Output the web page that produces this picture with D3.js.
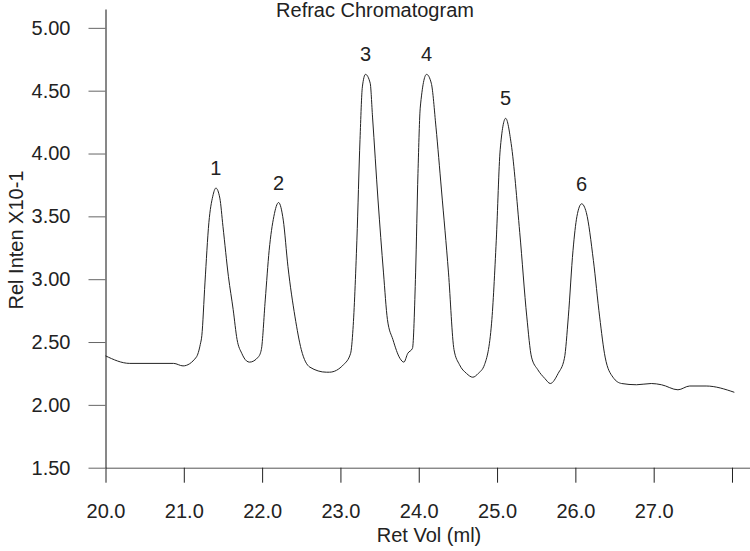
<!DOCTYPE html>
<html>
<head>
<meta charset="utf-8">
<script src="https://cdn.jsdelivr.net/npm/d3@7"></script>
<style>
  body { margin: 0; background: #fff; }
  svg text { font-family: "Liberation Sans", Arial, sans-serif; fill: #222; }
</style>
</head>
<body>
<div id="chart"></div>
<script>
// retention volume (ml) and relative intensity
const retVol = [20.00, 20.31, 20.87, 20.99, 21.16, 21.21, 21.23, 21.27, 21.32, 21.37, 21.41, 21.46, 21.50, 21.57, 21.63, 21.68, 21.74, 21.80, 21.84, 21.95, 21.99,
  22.04, 22.09, 22.15, 22.21, 22.27, 22.33, 22.42, 22.50, 22.61, 22.82, 22.86, 23.04, 23.13, 23.16, 23.21, 23.25, 23.28, 23.32, 23.38, 23.41, 23.48, 23.55, 23.60,
  23.67, 23.76, 23.81, 23.86, 23.92, 23.96, 23.99, 24.02, 24.10, 24.16, 24.22, 24.29, 24.38, 24.45, 24.52, 24.61, 24.69, 24.76, 24.84, 24.93, 24.99, 25.04, 25.11,
  25.18, 25.29, 25.38, 25.44, 25.52, 25.61, 25.68, 25.78, 25.86, 25.91, 25.97, 26.02, 26.08, 26.14, 26.23, 26.31, 26.38, 26.48, 26.59, 26.78, 26.97, 27.10, 27.31,
  27.46, 27.67, 28.03];
const relInten = [2.39, 2.33, 2.33, 2.31, 2.38, 2.48, 2.55, 2.97, 3.45, 3.66, 3.725, 3.645, 3.42, 3.02, 2.76, 2.52, 2.41, 2.35, 2.34, 2.38, 2.44,
  2.835, 3.23, 3.50, 3.61, 3.47, 3.10, 2.70, 2.44, 2.30, 2.26, 2.26, 2.32, 2.41, 2.60, 3.31, 4.11, 4.53, 4.63, 4.56, 4.29, 3.63, 3.05, 2.68,
  2.52, 2.37, 2.34, 2.41, 2.45, 3.05, 3.84, 4.37, 4.63, 4.56, 4.21, 3.71, 3.05, 2.44, 2.32, 2.25, 2.22, 2.25, 2.32, 2.65, 3.31, 4.03, 4.28,
  4.08, 3.37, 2.70, 2.38, 2.28, 2.21, 2.17, 2.25, 2.37, 2.70, 3.23, 3.50, 3.60, 3.53, 3.15, 2.70, 2.38, 2.22, 2.17, 2.16, 2.17, 2.16, 2.12,
  2.15, 2.15, 2.10];

const peakNames = ["1", "2", "3", "4", "5", "6"];
const peakVol = [21.41, 22.21, 23.32, 24.10, 25.11, 26.08];
const peakInten = [3.725, 3.61, 4.63, 4.63, 4.28, 3.60];

const xTicks = [20, 21, 22, 23, 24, 25, 26, 27, 28];
const yTicks = [1.5, 2.0, 2.5, 3.0, 3.5, 4.0, 4.5, 5.0];

const width = 750, height = 551;

const svg = d3.select("#chart").append("svg")
    .attr("width", width)
    .attr("height", height);

const x = d3.scaleLinear().domain([20, 28.23]).range([105.5, 750]);
const y = d3.scaleLinear().domain([1.5, 5.15]).range([467.7, 9]);

// y axis
const yAxis = svg.append("g")
    .attr("transform", "translate(105.5,0)")
    .call(d3.axisLeft(y).tickValues(yTicks).tickSize(17).tickSizeOuter(0).tickPadding(18)
        .tickFormat(d => d.toFixed(2)));
yAxis.select(".domain").attr("stroke", "#111");
yAxis.selectAll(".tick line").attr("stroke", "#666");
yAxis.selectAll("text").style("font-size", "20px").attr("fill", "#222");

// x axis
const xAxis = svg.append("g")
    .attr("transform", "translate(0,467.7)")
    .call(d3.axisBottom(x).tickValues(xTicks).tickSize(15).tickSizeOuter(0).tickPadding(21)
        .tickFormat(d => d === 28 ? "" : d.toFixed(1)));
xAxis.select(".domain").attr("stroke", "#555");
xAxis.selectAll(".tick line").attr("stroke", "#222");
xAxis.selectAll("text").style("font-size", "20px").attr("fill", "#222");

// trace
const pts = retVol.map((v, i) => [v, relInten[i]]);
const line = d3.line()
    .x(d => x(d[0]))
    .y(d => y(d[1]))
    .curve(d3.curveMonotoneX);

svg.append("path")
    .datum(pts)
    .attr("d", line)
    .attr("fill", "none")
    .attr("stroke", "#222")
    .attr("stroke-width", 1);

// peak numbers
svg.selectAll("text.peak")
    .data(peakNames)
    .enter().append("text")
    .attr("class", "peak")
    .attr("x", (d, i) => x(peakVol[i]))
    .attr("y", (d, i) => y(peakInten[i]) - 13)
    .attr("text-anchor", "middle")
    .style("font-size", "20px")
    .text(d => d);

// titles
svg.append("text")
    .attr("x", 375)
    .attr("y", 17)
    .attr("text-anchor", "middle")
    .style("font-size", "20px")
    .text("Refrac Chromatogram");

svg.append("text")
    .attr("x", 429)
    .attr("y", 542)
    .attr("text-anchor", "middle")
    .style("font-size", "20px")
    .text("Ret Vol (ml)");

svg.append("text")
    .attr("transform", "translate(22.5,240) rotate(-90)")
    .attr("text-anchor", "middle")
    .style("font-size", "20px")
    .text("Rel Inten X10-1");
</script>
</body>
</html>
